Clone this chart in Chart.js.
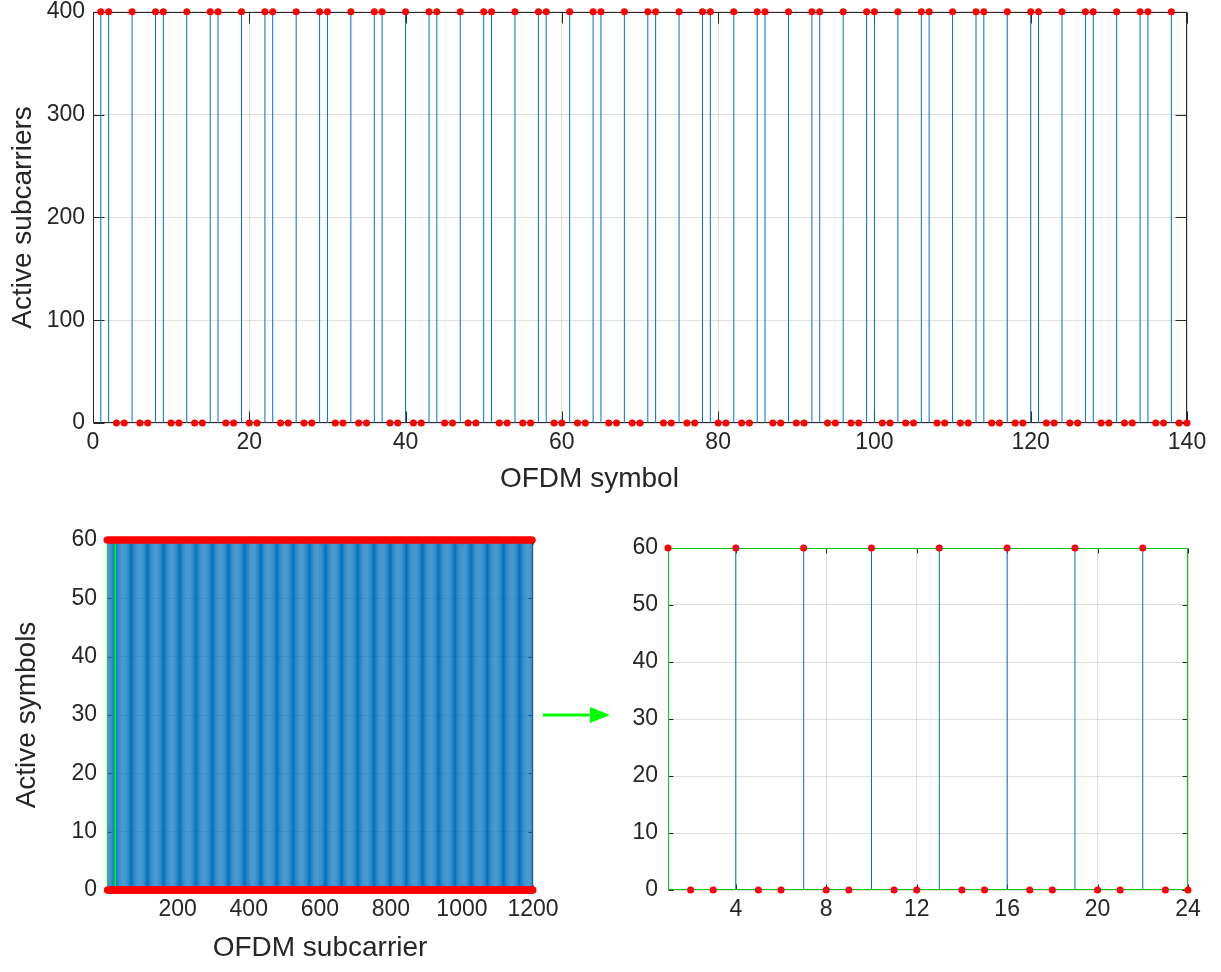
<!DOCTYPE html>
<html>
<head>
<meta charset="utf-8">
<script src="https://cdn.jsdelivr.net/npm/chart.js@4.4.1/dist/chart.umd.min.js"></script>
<style>
  body { margin: 0; background: #fff; }
  #wrap { position: relative; width: 1221px; height: 972px; overflow: hidden; }
  canvas, svg { position: absolute; }
</style>
</head>
<body>
<div id="wrap">
  <canvas id="symbolsChart" width="1221" height="510" style="left:0;top:-10px"></canvas>
  <canvas id="gridChart" width="565" height="472" style="left:0;top:500px"></canvas>
  <canvas id="zoomChart" width="661" height="472" style="left:560px;top:500px"></canvas>
  <svg width="80" height="30" style="left:540px;top:700px">
    <line x1="3" y1="15" x2="56" y2="15" stroke="#00ff00" stroke-width="3"/>
    <polygon points="70,15 50,7 50,23" fill="#00ff00"/>
  </svg>
</div>
<script>
// top plot: OFDM symbols 1..140, which ones carry subcarriers
const symbolCount = 140;
const activeSymbols = [1, 2, 5, 8, 9, 12, 15, 16, 19, 22, 23, 26, 29, 30, 33, 36, 37, 40, 43, 44,
  47, 50, 51, 54, 57, 58, 61, 64, 65, 68, 71, 72, 75, 78, 79, 82, 85, 86, 89, 92,
  93, 96, 99, 100, 103, 106, 107, 110, 113, 114, 117, 120, 121, 124, 127, 128, 131, 134, 135, 138];
const activeLevel = 400;
const symbolTicks = [0, 20, 40, 60, 80, 100, 120, 140];
const carrierTicks = [0, 100, 200, 300, 400];

// bottom plots: subcarriers 1..1200, '1' = active in 60 symbols
const maskA = '100100100100100100100100100100' + '100100100100100100100100100100' + '100100100100100100100100100100' + '1001001001';
const maskB = '001001001001001001001001001001' + '001001001001001001001001001001' + '001001001001001001001001001001' + '0010010010';
const maskC = '010010010010010010010010010010' + '010010010010010010010010010010' + '010010010010010010010010010010' + '0100100100';
const subcarrierMaskRows = [maskA, maskB, maskC, maskA, maskB, maskC, maskA, maskB, maskC, maskA, maskB, maskC];
const symbolLevel = 60;
const subcarrierTicks = [200, 400, 600, 800, 1000, 1200];
const activeSymbolTicks = [0, 10, 20, 30, 40, 50, 60];
const zoomRange = [1, 24];
const zoomTicks = [4, 8, 12, 16, 20, 24];

const symbols = [];
const symbolValues = [];
for (let s = 1; s <= symbolCount; s++) {
  symbols.push(s);
  symbolValues.push(activeSymbols.includes(s) ? activeLevel : 0);
}

const mask = subcarrierMaskRows.join('');
const subcarriers = [];
const subcarrierValues = [];
for (let i = 0; i < mask.length; i++) {
  subcarriers.push(i + 1);
  subcarrierValues.push(mask[i] === '1' ? symbolLevel : 0);
}
const zoomX = subcarriers.slice(zoomRange[0] - 1, zoomRange[1]);
const zoomY = subcarrierValues.slice(zoomRange[0] - 1, zoomRange[1]);

const zoomBox = [
  {x: zoomRange[0], y: 0}, {x: zoomRange[0], y: symbolLevel},
  {x: zoomRange[1], y: symbolLevel}, {x: zoomRange[1], y: 0}, {x: zoomRange[0], y: 0}
];

const BLUE = '#0072BD';
const RED = '#ff0000';
const GREEN = '#00ff00';
const GRID = 'rgba(38,38,38,0.15)';
const INK = '#262626';

Chart.defaults.font.family = "'Liberation Sans', Arial, Helvetica, sans-serif";
Chart.defaults.color = INK;

function points(xs, ys) {
  return xs.map((x, i) => ({x: x, y: ys[i]}));
}

function stems(xs, ys) {
  const out = [];
  xs.forEach((x, i) => {
    if (ys[i] !== 0) out.push({x: x, y: 0}, {x: x, y: ys[i]}, {x: x, y: null});
  });
  return out;
}

// matlab style box with inward ticks
const matBox = {
  id: 'matBox',
  beforeDatasetsDraw(chart, args, opts) {
    const a = chart.chartArea;
    const ctx = chart.ctx;
    const len = opts.tick || 5;
    ctx.save();
    ctx.strokeStyle = INK;
    ctx.lineWidth = 1;
    ctx.beginPath();
    const l = Math.round(a.left) + 0.5, r = Math.round(a.right) - 0.5;
    const t = Math.round(a.top) + 0.5, b = Math.round(a.bottom) - 0.5;
    ctx.rect(l, t, r - l, b - t);
    chart.scales.x.ticks.forEach(tk => {
      const px = Math.round(chart.scales.x.getPixelForValue(tk.value)) + 0.5;
      ctx.moveTo(px, b); ctx.lineTo(px, b - len);
      ctx.moveTo(px, t); ctx.lineTo(px, t + len);
    });
    chart.scales.y.ticks.forEach(tk => {
      const py = Math.round(chart.scales.y.getPixelForValue(tk.value)) + 0.5;
      ctx.moveTo(l, py); ctx.lineTo(l + len, py);
      ctx.moveTo(r, py); ctx.lineTo(r - len, py);
    });
    ctx.stroke();
    ctx.restore();
  }
};

function axis(min, max, ticks, tickPad, title, titlePad, fit) {
  const cfg = {
    type: 'linear',
    min: min,
    max: max,
    afterBuildTicks: s => { s.ticks = ticks.map(v => ({value: v})); },
    afterFit: fit,
    grid: {color: GRID, drawTicks: false},
    border: {display: false},
    ticks: {font: {size: 23}, padding: tickPad, color: INK, callback: v => String(v)}
  };
  if (title) {
    cfg.title = {display: true, text: title, font: {size: 28}, color: INK, padding: titlePad};
  }
  return cfg;
}

function baseOptions(padding, tickLen, scales) {
  return {
    responsive: false,
    animation: false,
    devicePixelRatio: 1,
    events: [],
    layout: {padding: padding},
    plugins: {legend: {display: false}, tooltip: {enabled: false}, matBox: {tick: tickLen}},
    scales: scales
  };
}

function markerSet(data) {
  return {data: data, showLine: false, pointRadius: 3.5, pointBackgroundColor: RED,
    pointBorderWidth: 0, clip: false, order: 0};
}

function stemSet(data) {
  return {data: data, showLine: true, spanGaps: false, pointRadius: 0,
    borderColor: BLUE, borderWidth: 1, order: 2};
}

function boxSet() {
  return {data: zoomBox, showLine: true, pointRadius: 0, borderColor: GREEN, borderWidth: 1.5, order: 1};
}

// the x label sits left of centre in the original, trailing spaces push it over
new Chart(document.getElementById('symbolsChart'), {
  type: 'scatter',
  plugins: [matBox],
  data: {
    datasets: [
      markerSet(points(symbols, symbolValues)),
      stemSet(stems(symbols, symbolValues))
    ]
  },
  options: baseOptions({top: 12, right: 34, left: 0, bottom: 0}, 11, {
    x: axis(0, symbolCount, symbolTicks, 6, 'OFDM symbol' + '\u00a0'.repeat(13), {top: 0, bottom: 4}, s => { s.height = 77; }),
    y: axis(0, activeLevel, carrierTicks, 8, 'Active subcarriers', {top: 6, bottom: 4}, s => { s.width = 93; })
  })
});

new Chart(document.getElementById('gridChart'), {
  type: 'scatter',
  plugins: [matBox],
  data: {
    datasets: [
      markerSet(points(subcarriers, subcarrierValues)),
      boxSet(),
      stemSet(stems(subcarriers, subcarrierValues))
    ]
  },
  options: baseOptions({top: 40, right: 32, left: 0, bottom: 3}, 4, {
    x: axis(1, subcarriers.length, subcarrierTicks, 6, 'OFDM subcarrier', {top: 0, bottom: 4}, s => { s.height = 79; }),
    y: axis(0, symbolLevel, activeSymbolTicks, 10, 'Active symbols', {top: 10, bottom: 4}, s => { s.width = 107; })
  })
});

new Chart(document.getElementById('zoomChart'), {
  type: 'scatter',
  plugins: [matBox],
  data: {
    datasets: [
      markerSet(points(zoomX, zoomY)),
      boxSet(),
      stemSet(stems(zoomX, zoomY))
    ]
  },
  options: baseOptions({top: 48, right: 33, left: 0, bottom: 6}, 5, {
    x: axis(zoomRange[0], zoomRange[1], zoomTicks, 6, null, null, s => { s.height = 76; }),
    y: axis(0, symbolLevel, activeSymbolTicks, 10, null, null, s => { s.width = 108; })
  })
});
</script>
</body>
</html>
